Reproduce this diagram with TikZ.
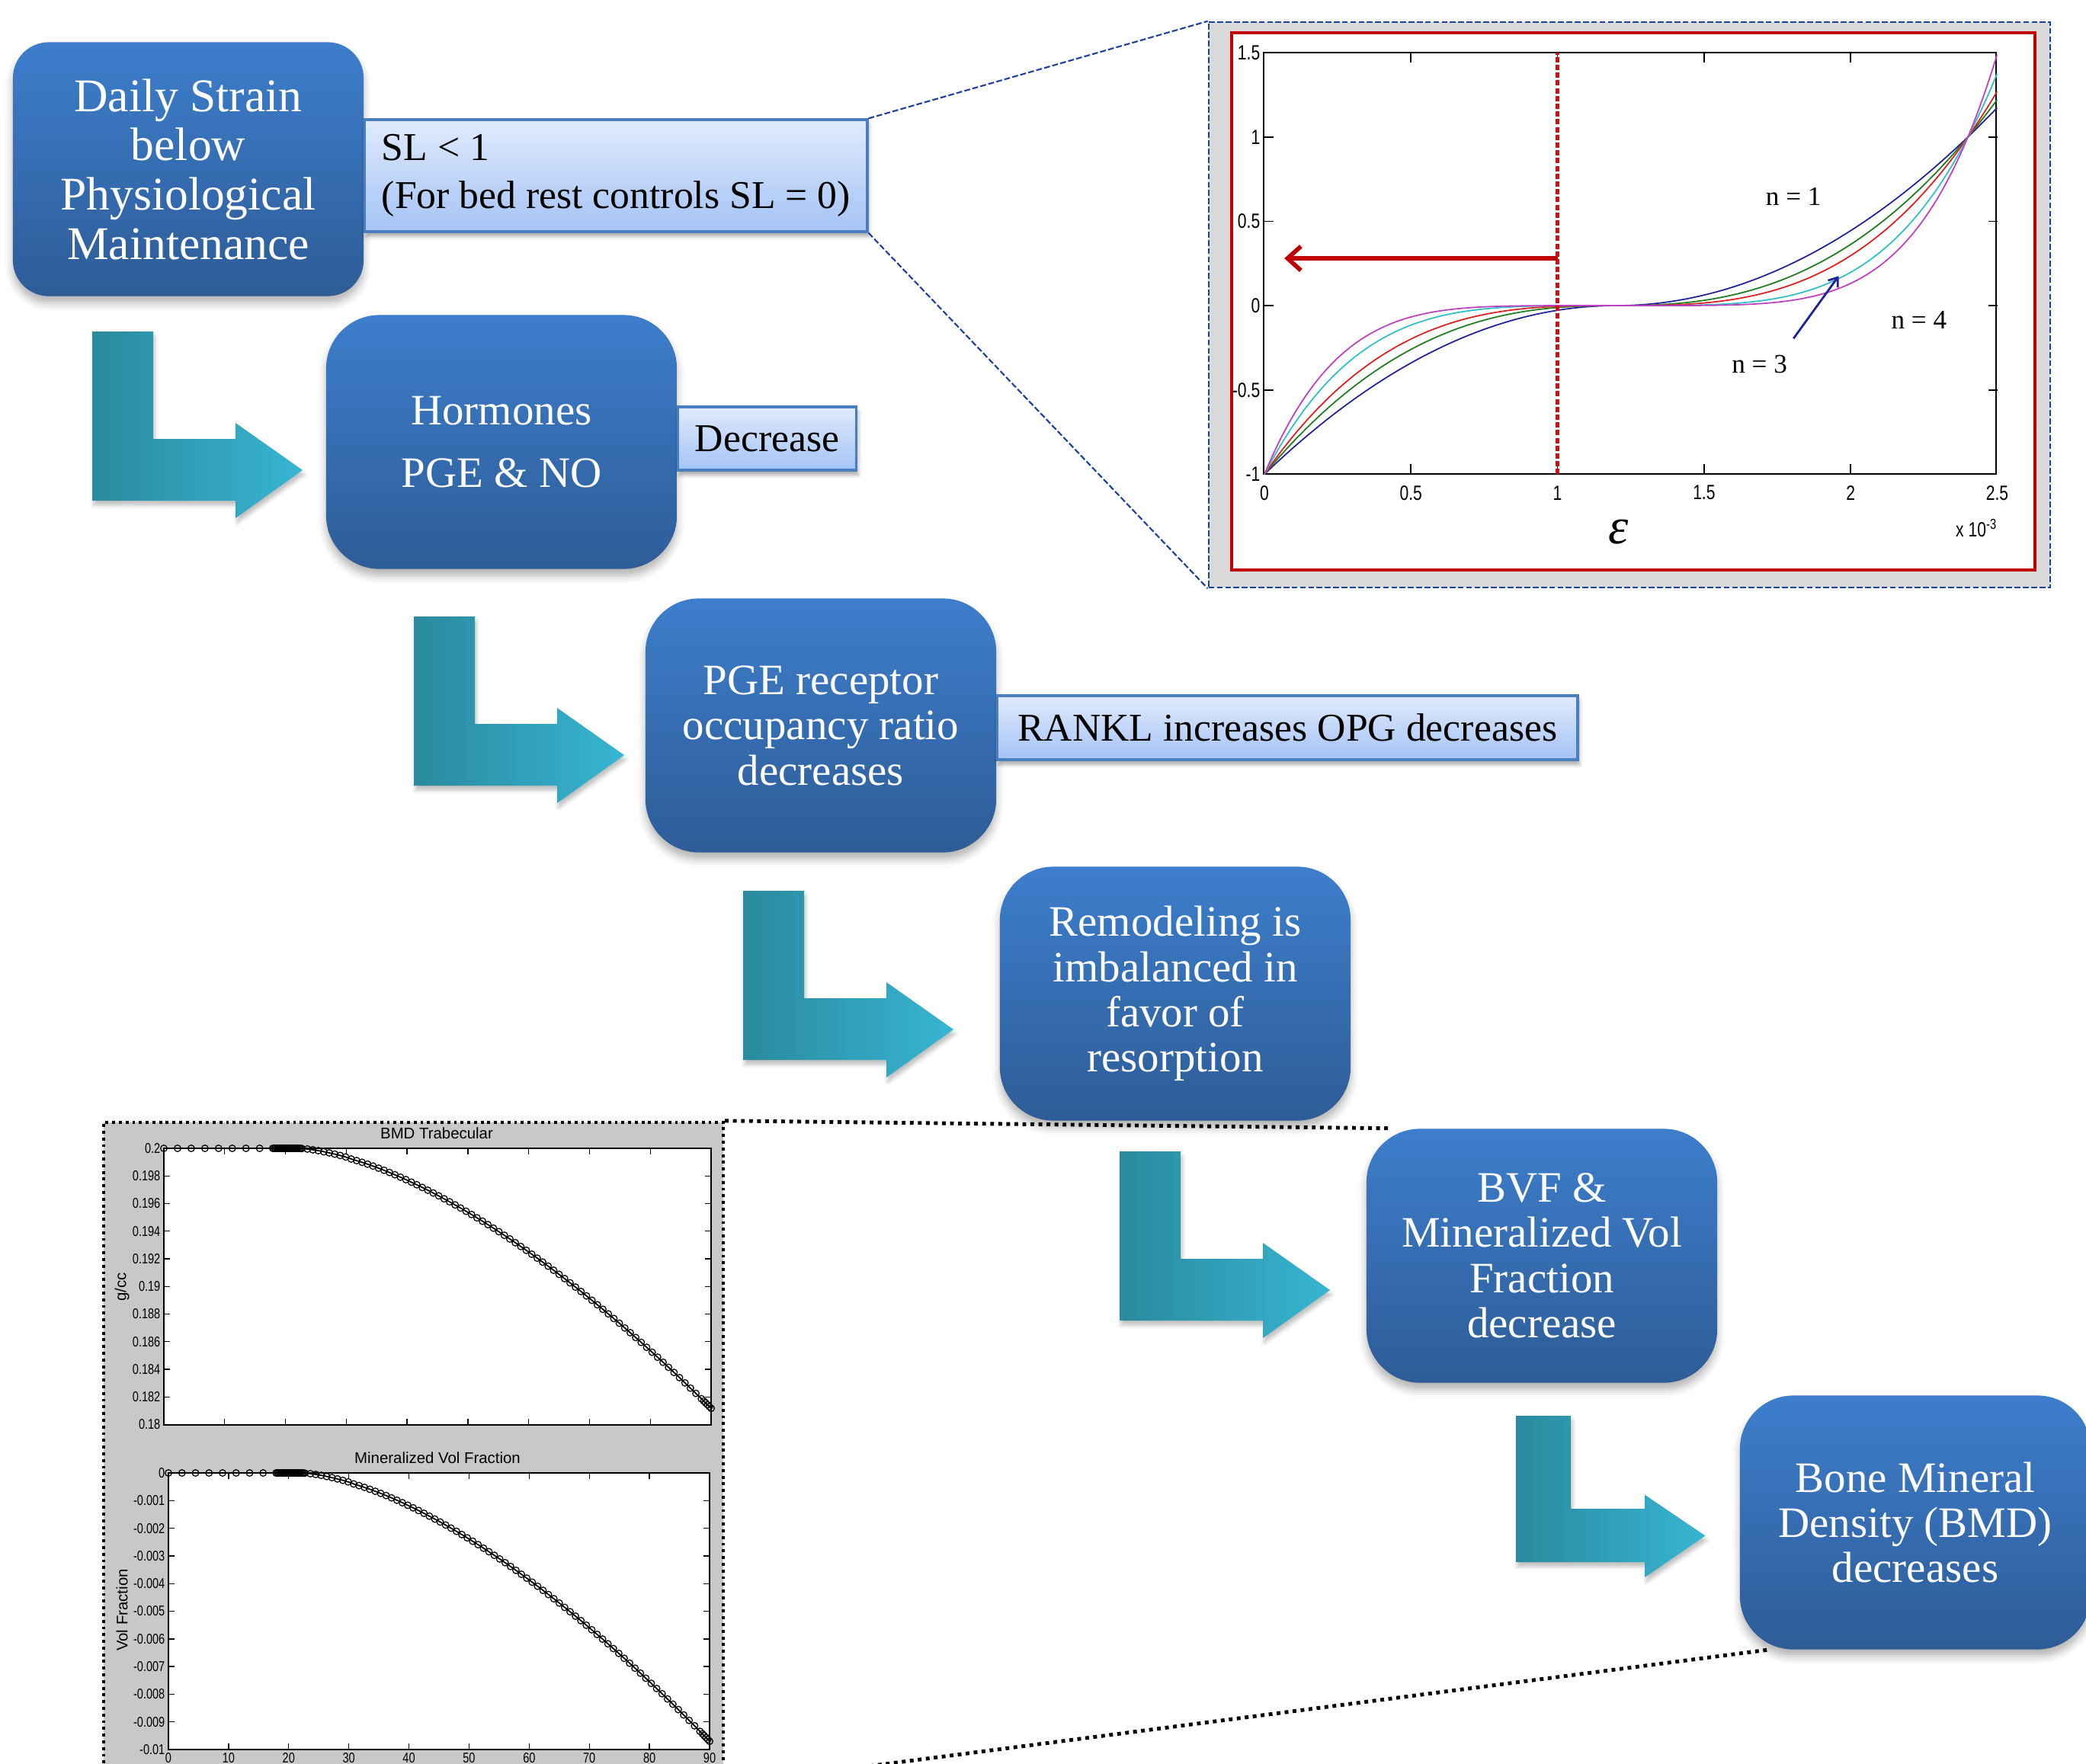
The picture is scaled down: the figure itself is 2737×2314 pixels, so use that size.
\documentclass[tikz,border=0pt]{standalone}
\usepackage{fontspec}
\setmainfont{Liberation Serif}
\newfontfamily\plotsans[FakeStretch=0.78]{Liberation Sans}
\newfontfamily\plotsansn{Liberation Sans}
\usetikzlibrary{shadows.blur,arrows.meta}

\definecolor{boxtop}{HTML}{3D7ECC}
\definecolor{boxbot}{HTML}{2E5C97}
\definecolor{lbltop}{HTML}{E0EAFC}
\definecolor{lblbot}{HTML}{A4C3F5}
\definecolor{lblborder}{HTML}{4A7EBF}
\definecolor{arrL}{HTML}{2A8A9E}
\definecolor{arrR}{HTML}{37B5D3}
\definecolor{frameblue}{HTML}{1F3F9F}
\definecolor{framered}{HTML}{C00000}
\definecolor{grayA}{HTML}{D9D9D9}
\definecolor{grayB}{HTML}{C8C8C8}
\definecolor{cblue}{HTML}{22229A}
\definecolor{cgreen}{HTML}{1E7F1E}
\definecolor{cred}{HTML}{E02020}
\definecolor{ccyan}{HTML}{30C0C8}
\definecolor{cmag}{HTML}{C040C0}
\definecolor{dotred}{HTML}{D01010}

\tikzset{
  mainbox/.style={rectangle, rounded corners=0.7cm, top color=boxtop, bottom color=boxbot,
    text=white, align=center, minimum width=4.6cm, minimum height=3.33cm, inner sep=0pt,
    font=\fontsize{16.2}{16.9}\selectfont,
    blur shadow={shadow xshift=0pt, shadow yshift=-0.09cm, shadow blur radius=0.1cm, shadow opacity=30}},
  lblbox/.style={rectangle, top color=lbltop, bottom color=lblbot, draw=lblborder, line width=0.9pt,
    inner sep=0pt, font=\fontsize{14.7}{17.9}\selectfont,
    blur shadow={shadow xshift=0.02cm, shadow yshift=-0.06cm, shadow blur radius=0.05cm, shadow opacity=35}},
  bentfill/.style={left color=arrL, right color=arrR,
    blur shadow={shadow xshift=0.02cm, shadow yshift=-0.06cm, shadow blur radius=0.05cm, shadow opacity=25}},
  bluedash/.style={frameblue, line width=0.6pt, dash pattern=on 2.2pt off 0.9pt},
  dotline/.style={black, line width=1.4pt, dash pattern=on 1.4pt off 1.6pt},
  ticklblA/.style={font=\plotsans\fontsize{7.7}{8}\selectfont, inner sep=0pt},
  ticklblB/.style={font=\plotsans\fontsize{5.3}{6}\selectfont, inner sep=0pt},
  titleB/.style={font=\plotsansn\fontsize{5.8}{6.5}\selectfont, inner sep=0pt},
  nlabel/.style={font=\fontsize{10}{12}\selectfont, inner sep=0pt},
  markB/.style={black, line width=0.35pt},
}

\newcommand\bentarr[4]{%
  \begin{scope}[shift={(#1,#2)}, xscale=#3, yscale=#4]
    \path[bentfill] (0,0) -- (80,0) -- (80,141) -- (188,141) -- (188,120) -- (276,182)
      -- (188,245) -- (188,222) -- (0,222) -- cycle;
  \end{scope}}

% one marker: #1 x0, #2 x-scale, #3 y0, #4 y-scale
\newcommand\pbcirc[4]{%
  \pgfmathsetmacro\yyv{#3+#4*(max(\t-22,0.0001)/68)^1.58}%
  \draw[markB] (#1+\t*#2,\yyv) circle[radius=0.043cm];}
\newcommand\pbmarks[4]{%
  \foreach \t in {0,2.25,...,15.8}{\pbcirc{#1}{#2}{#3}{#4}}
  \foreach \t in {17.9,18.1,...,22.9}{\pbcirc{#1}{#2}{#3}{#4}}
  \foreach \t in {23.6,24.5,...,88.5}{\pbcirc{#1}{#2}{#3}{#4}}
  \foreach \t in {88.8,89.1,...,90.05}{\pbcirc{#1}{#2}{#3}{#4}}}

\begin{document}
\begin{tikzpicture}[x=0.01cm, y=-0.01cm]
\useasboundingbox (0,0) rectangle (2737,2314);
\clip (0,0) rectangle (2737,2314);

% ---------------- top-right plot -----------------
\node[rectangle, fill=grayA, draw=frameblue, line width=0.6pt, dash pattern=on 2.2pt off 0.9pt,
      minimum width=11.04cm, minimum height=7.42cm, inner sep=0pt] (pa) at (2138,400) {};
\draw[framered, line width=0.9pt, fill=white] (1616,43) rectangle (2670,748);
\draw[line width=0.5pt] (1658,69) rectangle (2619,622);

\begin{scope}[shift={(16.58cm,-4.008cm)}, x=3.844cm, y=2.212cm]
  \foreach \v in {0.5,1,1.5,2}{
    \draw[line width=0.5pt] (\v,-1) -- ++(0,0.06);
    \draw[line width=0.5pt] (\v,1.5) -- ++(0,-0.06);}
  \foreach \v in {-0.5,0,0.5,1}{
    \draw[line width=0.5pt] (0,\v) -- ++(0.03,0);
    \draw[line width=0.5pt] (2.5,\v) -- ++(-0.03,0);}
  \foreach \pw/\col in {2/cblue,2.5/cgreen,3/cred,4/ccyan,5/cmag}{
    \draw[\col, line width=0.5pt] plot[domain=0:2.5, samples=121, smooth]
      (\x, {sign(\x-1.2)*(abs(\x-1.2)/1.2+0.00001)^\pw});}
  \coordinate (vl1) at (1,-1);
  \coordinate (vl2) at (1,1.5);
  \draw[dotred, line width=1.3pt, dash pattern=on 2pt off 0.9pt] (vl1) -- (vl2);
  \coordinate (ra1) at (1,0.28);
  \coordinate (ra2) at (0.068,0.28);
  \draw[framered, line width=1.6pt, -{Straight Barb[length=5pt,width=9pt]}] (ra1) -- (ra2);
  \foreach \v [count=\i] in {0,0.5,1,1.5,2,2.5}{
    \node[ticklblA] (xt\i) at (\v,-1.11) {\v};}
  \foreach \v [count=\i] in {-1,-0.5,0,0.5,1,1.5}{
    \node[ticklblA, anchor=east] (yt\i) at (-0.013,\v) {\v};}
  \node[ticklblA] (xmul) at (2.43,-1.321) {x 10\textsuperscript{-3}};
  \node[font=\itshape\fontsize{19}{20}\selectfont, inner sep=0pt] (eps) at (1.207,-1.344) {ε};
  \node[nlabel] (n1) at (1.805,0.648) {n = 1};
  \node[nlabel] (n4) at (2.233,-0.087) {n = 4};
  \node[nlabel] (n3) at (1.689,-0.349) {n = 3};
  \coordinate (ba1) at (1.805,-0.195);
  \coordinate (ba2) at (1.959,0.175);
  \draw[cblue, line width=0.8pt, -{Straight Barb[length=3pt,width=4.5pt]}] (ba1) -- (ba2);
\end{scope}

% ---------------- bottom-left plot -----------------
\node[rectangle, fill=grayB, draw=black, line width=1.1pt, dash pattern=on 1.1pt off 1.4pt,
      minimum width=8.13cm, minimum height=8.67cm, inner sep=0pt] (pb) at (542.5,1906.5) {};
% upper axes
\draw[line width=0.5pt, fill=white] (215,1507) rectangle (933,1870);
\foreach \k in {1,...,8}{
  \draw[line width=0.4pt] (215+\k*79.78,1870) -- ++(0,-8);
  \draw[line width=0.4pt] (215+\k*79.78,1507) -- ++(0,8);}
\foreach \k in {1,...,9}{
  \draw[line width=0.4pt] (215,1507+\k*36.25) -- ++(8,0);
  \draw[line width=0.4pt] (933,1507+\k*36.25) -- ++(-8,0);}
\foreach \v [count=\i from 0] in {0.2,0.198,0.196,0.194,0.192,0.19,0.188,0.186,0.184,0.182,0.18}{
  \node[ticklblB, anchor=east] (ua\i) at (211,1507+\i*36.25) {\v};}
\draw[line width=0.5pt] plot[domain=0:90, samples=91]
  ({215+\x*7.978}, {1507+341.2*(max(\x-22,0.0001)/68)^1.58});
\pbmarks{215}{7.978}{1507}{341.2}
\node[titleB] (t1) at (573,1487) {BMD Trabecular};
\node[titleB, rotate=90] (yl1) at (160,1689) {g/cc};
% lower axes
\draw[line width=0.5pt, fill=white] (221,1933) rectangle (931,2296);
\foreach \k in {1,...,8}{
  \draw[line width=0.4pt] (221+\k*78.89,2296) -- ++(0,-8);
  \draw[line width=0.4pt] (221+\k*78.89,1933) -- ++(0,8);}
\foreach \k in {1,...,9}{
  \draw[line width=0.4pt] (221,1933+\k*36.3) -- ++(8,0);
  \draw[line width=0.4pt] (931,1933+\k*36.3) -- ++(-8,0);}
\foreach \v [count=\i from 0] in {0,-0.001,-0.002,-0.003,-0.004,-0.005,-0.006,-0.007,-0.008,-0.009,-0.01}{
  \node[ticklblB, anchor=east] (la\i) at (217,1933+\i*36.3) {\v};}
\foreach \v [count=\i from 0] in {0,10,20,30,40,50,60,70,80,90}{
  \node[ticklblB] (lx\i) at (221+\i*78.89,2307) {\v};}
\draw[line width=0.5pt] plot[domain=0:90, samples=91]
  ({221+\x*7.889}, {1933+352.1*(max(\x-22,0.0001)/68)^1.58});
\pbmarks{221}{7.889}{1933}{352.1}
\node[titleB] (t2) at (574,1913) {Mineralized Vol Fraction};
\node[titleB, rotate=90] (yl2) at (160,2113) {Vol Fraction};

% ---------------- bent arrows -----------------
\bentarr{121}{435}{1}{1}
\bentarr{543}{809}{1}{1}
\bentarr{975}{1169}{1}{1}
\bentarr{1469}{1511}{1}{1}
\bentarr{1989}{1858}{0.9}{0.865}

% ---------------- main boxes -----------------
\node[mainbox, rounded corners=0.47cm, font=\fontsize{17.5}{18.4}\selectfont] (b1) at (247,222)
  {Daily Strain\\below\\Physiological\\Maintenance};
\node[mainbox] (b2) at (658,580) {Hormones\\[6.4pt]PGE \& NO};
\node[mainbox] (b3) at (1077,952) {PGE receptor\\occupancy ratio\\decreases};
\node[mainbox] (b4) at (1542,1304) {Remodeling is\\imbalanced in\\favor of\\resorption};
\node[mainbox] (b5) at (2023,1648) {BVF \&\\Mineralized Vol\\Fraction\\decrease};
\node[mainbox] (b6) at (2513,1998) {Bone Mineral\\Density (BMD)\\decreases};

% ---------------- label boxes -----------------
\node[lblbox, minimum width=6.59cm, minimum height=1.47cm, align=left, anchor=west]
  (sl) at (477,230.5) {SL < 1\\(For bed rest controls SL = 0)};
\node[lblbox, minimum width=2.34cm, minimum height=0.83cm, anchor=west] (dec) at (888,575.5) {Decrease};
\node[lblbox, minimum width=7.61cm, minimum height=0.84cm, anchor=west] (rankl) at (1307,955)
  {RANKL increases OPG decreases};

% ---------------- zoom connectors -----------------
\draw[bluedash] (sl.north east) -- (pa.north west);
\draw[bluedash] (sl.south east) -- (pa.south west);
\draw[dotline] (pb.north east) -- ([xshift=0.3cm]b5.north west);
\draw[dotline] ([xshift=0.36cm]b6.south west) -- (pb.south east);
\end{tikzpicture}
\end{document}
